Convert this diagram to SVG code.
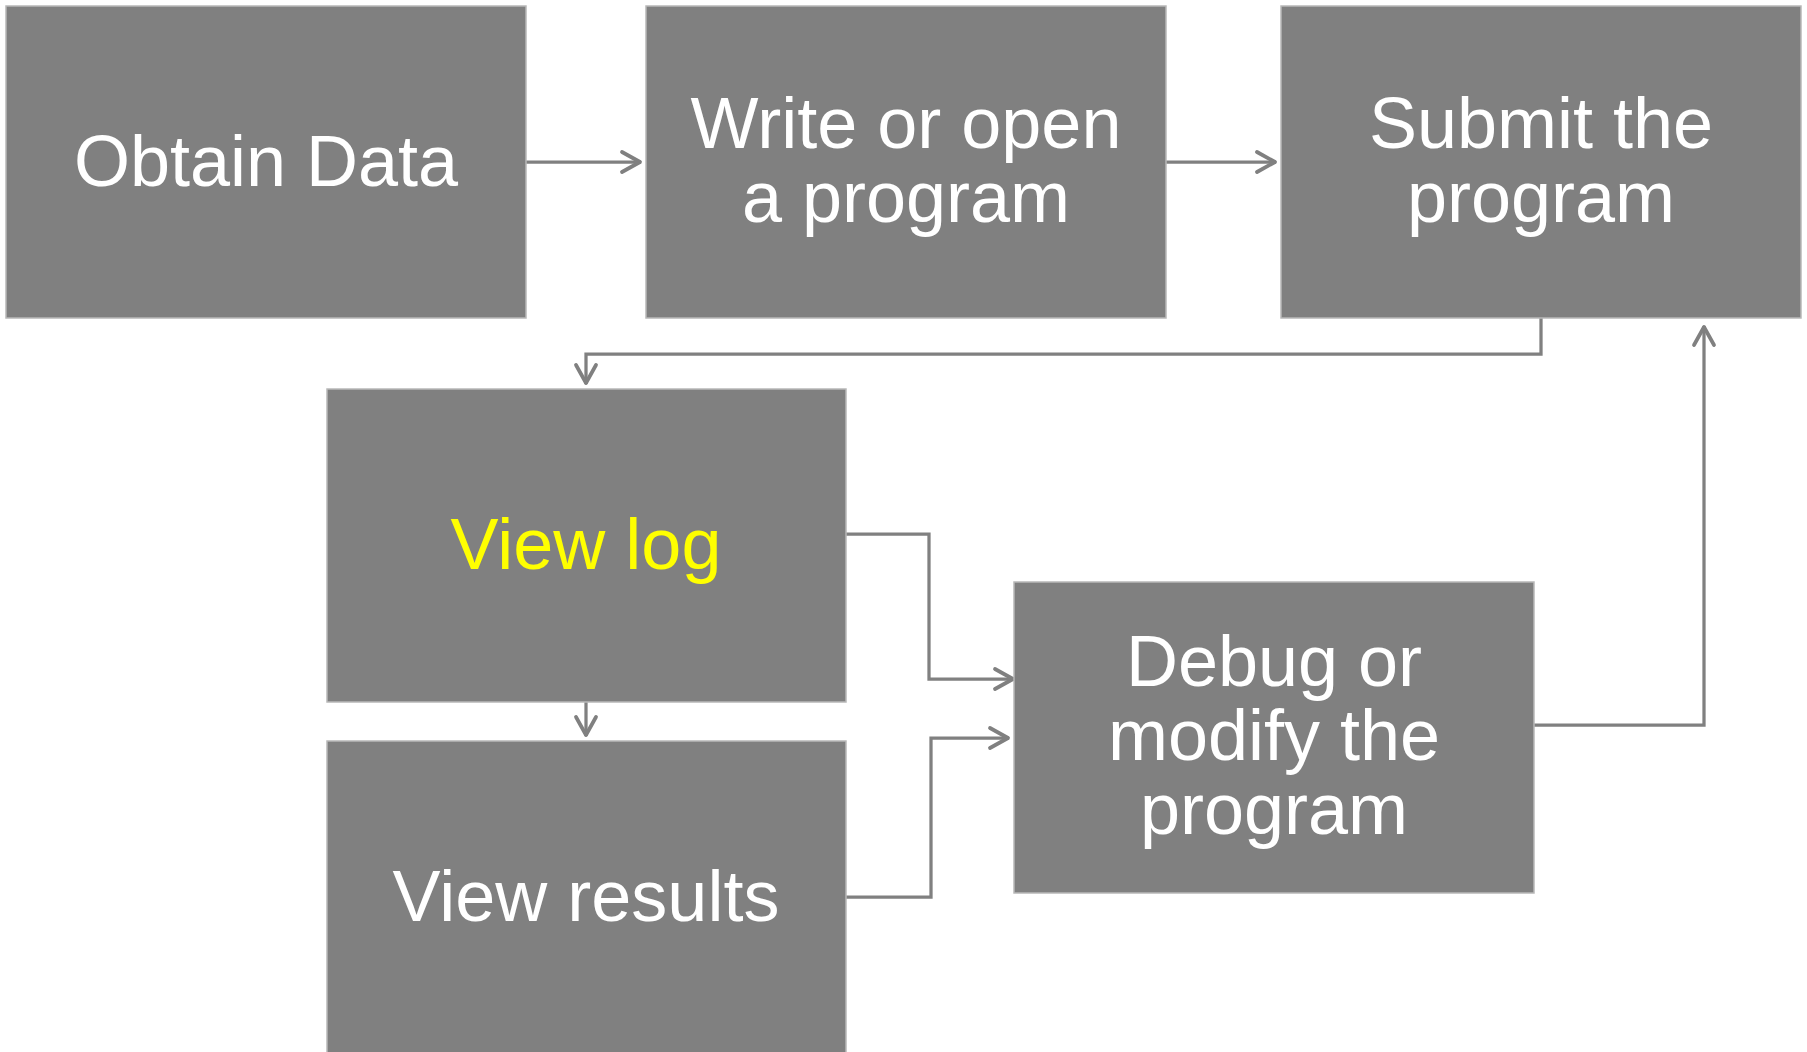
<svg xmlns="http://www.w3.org/2000/svg" width="1807" height="1052" viewBox="0 0 1807 1052">
  <style>
    .box { fill: #808080; stroke: #b8b8b8; stroke-width: 1.5; }
    .lbl { font-family: "Liberation Sans", Arial, sans-serif; font-size: 72px; fill: #ffffff; text-anchor: middle; }
    .hl { fill: #ffff00; }
    .wire { fill: none; stroke: #808080; stroke-width: 3.25; stroke-linejoin: miter; }
  </style>
  <defs>
    <marker id="arrow" markerUnits="userSpaceOnUse" markerWidth="30" markerHeight="30" viewBox="-24 -15 30 30" refX="0" refY="0" orient="auto" overflow="visible">
      <path d="M-19,-10 L-1,0 L-19,10" fill="none" stroke="#808080" stroke-width="3.75" stroke-linecap="round" stroke-linejoin="round"/>
    </marker>
  </defs>
  <rect width="1807" height="1052" fill="#ffffff"/>

  <g id="connectors">
    <path class="wire" d="M526,162 H641" marker-end="url(#arrow)"/>
    <path class="wire" d="M1166,162 H1276" marker-end="url(#arrow)"/>
    <path class="wire" d="M1541,318 V354 H586 V384" marker-end="url(#arrow)"/>
    <path class="wire" d="M586,702 V736" marker-end="url(#arrow)"/>
    <path class="wire" d="M846,534 H929 V679 H1014" marker-end="url(#arrow)"/>
    <path class="wire" d="M846,897 H931 V738 H1009" marker-end="url(#arrow)"/>
    <path class="wire" d="M1534,725 H1704 V326" marker-end="url(#arrow)"/>
  </g>

  <g id="obtain-data">
    <rect class="box" x="6" y="6" width="520" height="312"/>
    <text class="lbl" x="266" y="186">Obtain Data</text>
  </g>

  <g id="write-program">
    <rect class="box" x="646" y="6" width="520" height="312"/>
    <text class="lbl" x="906" y="148">Write or open</text>
    <text class="lbl" x="906" y="222">a program</text>
  </g>

  <g id="submit-program">
    <rect class="box" x="1281" y="6" width="520" height="312"/>
    <text class="lbl" x="1541" y="148">Submit the</text>
    <text class="lbl" x="1541" y="222">program</text>
  </g>

  <g id="view-log">
    <rect class="box" x="327" y="389" width="519" height="313"/>
    <text class="lbl hl" x="586" y="569">View log</text>
  </g>

  <g id="view-results">
    <rect class="box" x="327" y="741" width="519" height="313"/>
    <text class="lbl" x="586" y="921">View results</text>
  </g>

  <g id="debug-program">
    <rect class="box" x="1014" y="582" width="520" height="311"/>
    <text class="lbl" x="1274" y="686">Debug or</text>
    <text class="lbl" x="1274" y="760">modify the</text>
    <text class="lbl" x="1274" y="834">program</text>
  </g>
</svg>
